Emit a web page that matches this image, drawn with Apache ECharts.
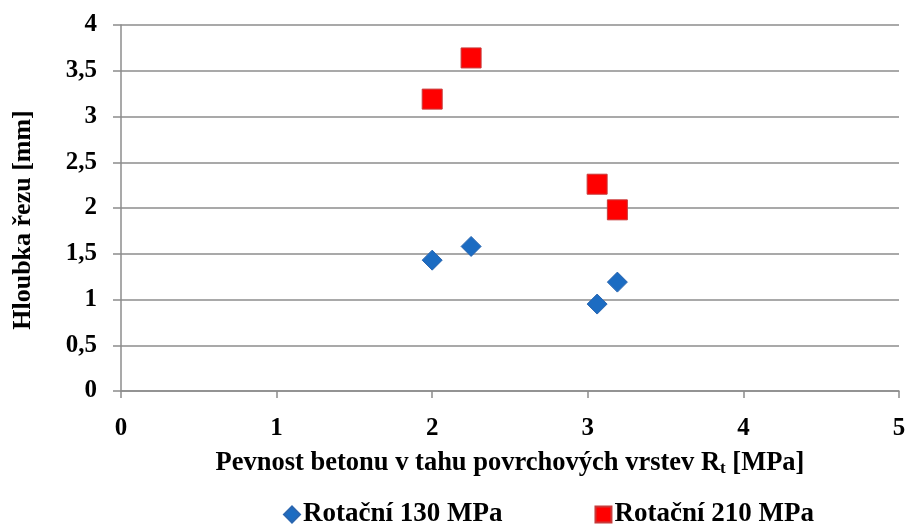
<!DOCTYPE html>
<html>
<head>
<meta charset="utf-8">
<script src="https://cdn.jsdelivr.net/npm/echarts@6/dist/echarts.min.js"></script>
<style>
  html, body { margin: 0; padding: 0; background: #ffffff; }
  #chart { width: 909px; height: 527px; }
</style>
</head>
<body>
<div id="chart"></div>
<script>
// Tensile strength of surface layers R_t [MPa] vs. cut depth [mm]
const seriesNames = ['Rotační 130 MPa', 'Rotační 210 MPa'];
const strength130 = [2.0, 2.25, 3.06, 3.19];
const depth130 = [1.43, 1.58, 0.95, 1.19];
const strength210 = [2.0, 2.25, 3.06, 3.19];
const depth210 = [3.19, 3.64, 2.26, 1.98];
const xTicks = { min: 0, max: 5, interval: 1 };
const yTicks = { min: 0, max: 4, interval: 0.5 };
const xTitle = 'Pevnost betonu v tahu povrchových vrstev R{sub|t} [MPa]';
const yTitle = 'Hloubka řezu [mm]';

const pairs = (xs, ys) => xs.map((x, i) => [x, ys[i]]);
const FONT = '"Liberation Serif", "Times New Roman", serif';
const GRAY = '#8c8c8c';

const chart = echarts.init(document.getElementById('chart'), null, { renderer: 'canvas' });
chart.setOption({
  animation: false,
  backgroundColor: '#ffffff',
  textStyle: { fontFamily: FONT, fontWeight: 'bold', color: '#000' },
  grid: { left: 121, right: 10, top: 25, bottom: 136 },
  // x-axis caption, centred under the plot area
  title: {
    text: xTitle,
    left: 510, top: 450,
    textAlign: 'center',
    padding: 0,
    textStyle: {
      fontFamily: FONT, fontWeight: 'bold', fontSize: 26.5, color: '#000',
      rich: { sub: { fontFamily: FONT, fontWeight: 'bold', fontSize: 17, color: '#000', padding: [10, 0, 0, 0] } }
    }
  },
  xAxis: {
    type: 'value',
    min: xTicks.min, max: xTicks.max, interval: xTicks.interval,
    axisLine: { show: true, lineStyle: { color: GRAY, width: 1.5 } },
    axisTick: { show: true, length: 7, lineStyle: { color: GRAY, width: 1.5 } },
    splitLine: { show: false },
    axisLabel: { margin: 25, fontFamily: FONT, fontWeight: 'bold', fontSize: 25, color: '#000' }
  },
  yAxis: {
    type: 'value',
    min: yTicks.min, max: yTicks.max, interval: yTicks.interval,
    name: yTitle,
    nameLocation: 'middle',
    nameRotate: 90,
    nameGap: 85,
    nameTextStyle: { fontFamily: FONT, fontWeight: 'bold', fontSize: 26, color: '#000', padding: [0, 24, 0, 0] },
    axisLine: { show: true, lineStyle: { color: GRAY, width: 1.5 } },
    axisTick: { show: true, length: 8, lineStyle: { color: GRAY, width: 1.5 } },
    splitLine: { show: true, lineStyle: { color: GRAY, width: 1.5 } },
    axisLabel: {
      margin: 24, fontFamily: FONT, fontWeight: 'bold', fontSize: 25, color: '#000',
      formatter: v => String(v).replace('.', ',')
    }
  },
  legend: {
    left: 278, top: 496,
    itemWidth: 16, itemHeight: 16, itemGap: 92,
    textStyle: { fontFamily: FONT, fontWeight: 'bold', fontSize: 27, color: '#000', padding: [0, 0, 0, -2] },
    data: [
      { name: seriesNames[0], icon: 'diamond' },
      { name: seriesNames[1], icon: 'rect' }
    ]
  },
  series: [
    {
      name: seriesNames[0],
      type: 'scatter',
      symbol: 'diamond',
      symbolSize: 20,
      itemStyle: { color: '#1c6cc2', borderColor: '#2a66b0', borderWidth: 1, opacity: 1 },
      data: pairs(strength130, depth130)
    },
    {
      name: seriesNames[1],
      type: 'scatter',
      symbol: 'rect',
      symbolSize: 20,
      itemStyle: { color: '#ff0000', borderColor: '#c83a3a', borderWidth: 1, opacity: 1 },
      data: pairs(strength210, depth210)
    }
  ]
});
</script>
</body>
</html>
